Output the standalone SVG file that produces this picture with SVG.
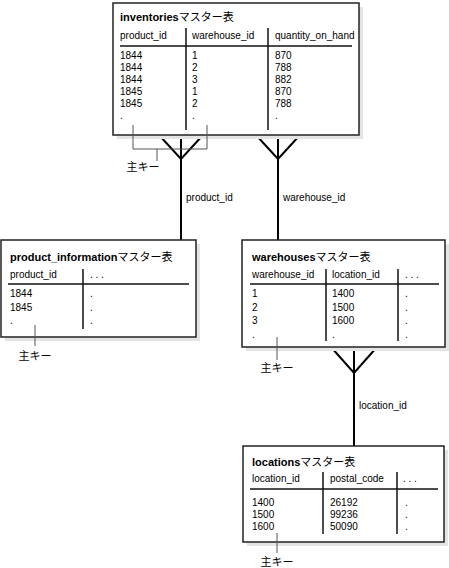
<svg xmlns="http://www.w3.org/2000/svg" width="449" height="568" viewBox="0 0 449 568">
<style>
text{font-family:"Liberation Sans","Noto Sans CJK JP",sans-serif;font-size:10px;fill:#000}
.t{font-size:11px}
.b{font-weight:bold}
.box{fill:#fff;stroke:#222;stroke-width:1.5}
.sh{fill:#e4e4e4}
.rule{stroke:#111;stroke-width:1.5;fill:none}
.pk{stroke:#555;stroke-width:1;fill:none}
.conn{stroke:#000;stroke-width:2;fill:none}
.m{text-anchor:middle;font-size:11px}
</style>
<rect width="449" height="568" fill="#fff"/>
<g id="connectors">
<line class="conn" x1="181" y1="135" x2="181" y2="240"/>
<polyline class="conn" points="159,135 181,159 203,135"/>
<line class="conn" x1="278" y1="135" x2="278" y2="240"/>
<polyline class="conn" points="256,135 278,159 300,135"/>
<line class="conn" x1="354" y1="347" x2="354" y2="446"/>
<polyline class="conn" points="331,347 354,373 377,347"/>
<text x="186" y="201">product_id</text>
<text x="283" y="201">warehouse_id</text>
<text x="359" y="409">location_id</text>
</g>
<g id="inventories">
<rect class="sh" x="117" y="7" width="246" height="132"/>
<rect class="box" x="113" y="3" width="246" height="132"/>
<text class="t" x="120" y="21"><tspan class="b">inventories</tspan>マスター表</text>
<text x="120" y="39">product_id</text>
<text x="192" y="39">warehouse_id</text>
<text x="275" y="39">quantity_on_hand</text>
<line class="rule" x1="120" y1="46" x2="352" y2="46"/>
<line class="rule" x1="186" y1="28" x2="186" y2="130"/>
<line class="rule" x1="268" y1="28" x2="268" y2="130"/>
<text x="120" y="59">1844</text><text x="120" y="71">1844</text><text x="120" y="83">1844</text><text x="120" y="95">1845</text><text x="120" y="107">1845</text><text x="120" y="119">.</text>
<text x="192" y="59">1</text><text x="192" y="71">2</text><text x="192" y="83">3</text><text x="192" y="95">1</text><text x="192" y="107">2</text><text x="192" y="119">.</text>
<text x="275" y="59">870</text><text x="275" y="71">788</text><text x="275" y="83">882</text><text x="275" y="95">870</text><text x="275" y="107">788</text><text x="275" y="119">.</text>
<polyline class="pk" points="133,125 133,149 207,149 207,125"/>
<line class="pk" x1="157" y1="149" x2="157" y2="161"/>
<text class="m" x="143" y="171">主キー</text>
</g>
<g id="product_information">
<rect class="sh" x="5" y="244" width="195" height="97"/>
<rect class="box" x="1" y="240" width="195" height="97"/>
<text class="t" x="10" y="261"><tspan class="b">product_information</tspan>マスター表</text>
<text x="10" y="278">product_id</text>
<text x="90" y="278">. . .</text>
<line class="rule" x1="8" y1="284" x2="189" y2="284"/>
<line class="rule" x1="83" y1="269" x2="83" y2="329"/>
<text x="10" y="297">1844</text><text x="10" y="311">1845</text><text x="10" y="324">.</text>
<text x="90" y="297">.</text><text x="90" y="311">.</text><text x="90" y="324">.</text>
<line class="pk" x1="35" y1="325" x2="35" y2="346"/>
<text class="m" x="35" y="360">主キー</text>
</g>
<g id="warehouses">
<rect class="sh" x="246" y="244" width="203" height="107"/>
<rect class="box" x="242" y="240" width="203" height="107"/>
<text class="t" x="252" y="261"><tspan class="b">warehouses</tspan>マスター表</text>
<text x="252" y="278">warehouse_id</text>
<text x="332" y="278">location_id</text>
<text x="405" y="278">. . .</text>
<line class="rule" x1="250" y1="284" x2="439" y2="284"/>
<line class="rule" x1="326" y1="269" x2="326" y2="341"/>
<line class="rule" x1="398" y1="269" x2="398" y2="341"/>
<text x="252" y="297">1</text><text x="252" y="311">2</text><text x="252" y="324">3</text><text x="252" y="338">.</text>
<text x="332" y="297">1400</text><text x="332" y="311">1500</text><text x="332" y="324">1600</text><text x="332" y="338">.</text>
<text x="405" y="297">.</text><text x="405" y="311">.</text><text x="405" y="324">.</text><text x="405" y="338">.</text>
<line class="pk" x1="277" y1="337" x2="277" y2="360"/>
<text class="m" x="277" y="372">主キー</text>
</g>
<g id="locations">
<rect class="sh" x="247" y="450" width="201" height="96"/>
<rect class="box" x="243" y="446" width="201" height="96"/>
<text class="t" x="252" y="466"><tspan class="b">locations</tspan>マスター表</text>
<text x="252" y="482">location_id</text>
<text x="330" y="482">postal_code</text>
<text x="403" y="482">. . .</text>
<line class="rule" x1="250" y1="489" x2="438" y2="489"/>
<line class="rule" x1="323" y1="472" x2="323" y2="534"/>
<line class="rule" x1="397" y1="472" x2="397" y2="534"/>
<text x="252" y="506">1400</text><text x="252" y="518">1500</text><text x="252" y="530">1600</text>
<text x="330" y="506">26192</text><text x="330" y="518">99236</text><text x="330" y="530">50090</text>
<text x="405" y="506">.</text><text x="405" y="518">.</text><text x="405" y="530">.</text>
<line class="pk" x1="277" y1="533" x2="277" y2="553"/>
<text class="m" x="277" y="566">主キー</text>
</g>
</svg>
